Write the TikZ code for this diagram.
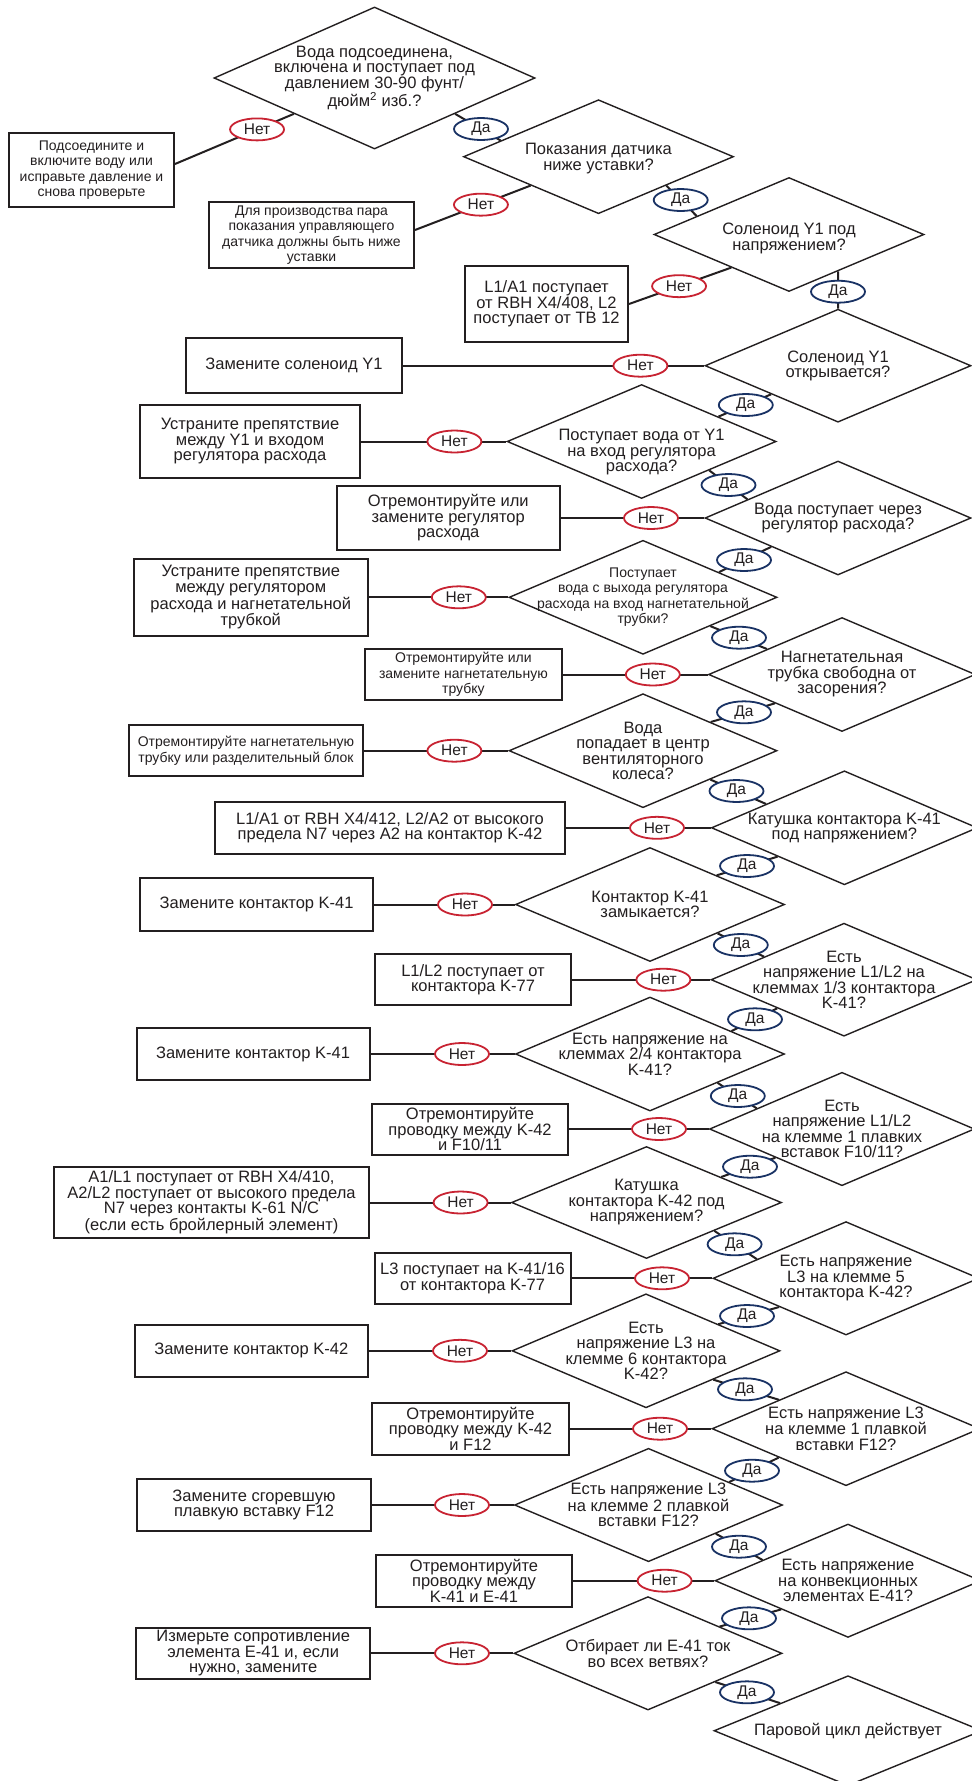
\documentclass[tikz,border=0pt]{standalone}
\usepackage{fontspec}
\setmainfont{Liberation Sans}
\usetikzlibrary{shapes.geometric,backgrounds,calc}
\definecolor{nored}{RGB}{200,35,50}
\definecolor{yesblue}{RGB}{25,50,100}
\definecolor{ink}{RGB}{35,31,32}
\newcommand\fbig{\fontsize{16.5}{15.5}\selectfont}
\newcommand\fsmall{\fontsize{14}{15.5}\selectfont}
\newcommand\flab{\fontsize{15.5}{16}\selectfont}
\newcommand\linkR[3]{\draw[link] (#1.south east) -- (intersection of #1.south east--#2.center and #3.west--#3.north);}
\newcommand\linkL[3]{\draw[link] (#1.south west) -- (intersection of #1.south west--#2.center and #3.east--#3.north);}
\begin{document}
\begin{tikzpicture}[x=1pt,y=-1pt,
 dia/.style={shape=diamond, draw=ink, line width=1.4pt, fill=white, inner sep=0pt},
 dtext/.style={align=center, font=\fbig, text=ink, inner sep=0pt},
 box/.style={draw=ink, line width=2pt, fill=white, inner sep=0pt, align=center, font=\fbig, text=ink},
 lab/.style={ellipse, fill=white, line width=1.8pt, minimum width=54pt, minimum height=22pt, inner sep=0pt, font=\flab, text=ink},
 no/.style={lab, draw=nored},
 yes/.style={lab, draw=yesblue},
 link/.style={line width=2pt, draw=ink},
]
\useasboundingbox (0,0) rectangle (972,1781);

% diamonds
\node[dia, minimum width=321pt, minimum height=142pt] (D1) at (374.5,78) {};
\node[dtext] (D1t) at (D1.center) {Вода подсоединена,\\включена и поступает под\\давлением 30-90 фунт/\\дюйм\textsuperscript{2} изб.?};
\node[dia, minimum width=270pt, minimum height=114pt] (D2) at (598.5,156.7) {};
\node[dtext, yshift=-2pt] (D2t) at (D2.center) {Показания датчика\\ниже уставки?};
\node[dia, minimum width=270pt, minimum height=114pt] (D3) at (789,234.5) {};
\node[dtext, yshift=-4pt] (D3t) at (D3.center) {Соленоид Y1 под\\напряжением?};
\node[dia, minimum width=266pt, minimum height=113pt] (D4) at (838,365.7) {};
\node[dtext] (D4t) at (D4.center) {Соленоид Y1\\открывается?};
\node[dia, minimum width=269pt, minimum height=114pt] (D5) at (641.6,441.5) {};
\node[dtext, yshift=-11pt] (D5t) at (D5.center) {Поступает вода от Y1\\на вход регулятора\\расхода?};
\node[dia, minimum width=266pt, minimum height=114pt] (D6) at (838,518) {};
\node[dtext] (D6t) at (D6.center) {Вода поступает через\\регулятор расхода?};
\node[dia, minimum width=268pt, minimum height=114pt] (D7) at (643,597.3) {};
\node[dtext, font=\fsmall] (D7t) at (D7.center) {Поступает\\вода с выхода регулятора\\расхода на вход нагнетательной\\трубки?};
\node[dia, minimum width=267pt, minimum height=114pt] (D8) at (842,674.5) {};
\node[dtext] (D8t) at (D8.center) {Нагнетательная\\трубка свободна от\\засорения?};
\node[dia, minimum width=268pt, minimum height=114pt] (D9) at (643,750.7) {};
\node[dtext] (D9t) at (D9.center) {Вода\\попадает в центр\\вентиляторного\\колеса?};
\node[dia, minimum width=266pt, minimum height=114pt] (D10) at (844.4,827.8) {};
\node[dtext] (D10t) at (D10.center) {Катушка контактора K-41\\под напряжением?};
\node[dia, minimum width=269pt, minimum height=114pt] (D11) at (650,904.5) {};
\node[dtext] (D11t) at (D11.center) {Контактор K-41\\замыкается?};
\node[dia, minimum width=266pt, minimum height=113pt] (D12) at (844,979.7) {};
\node[dtext] (D12t) at (D12.center) {Есть\\напряжение L1/L2 на\\клеммах 1/3 контактора\\K-41?};
\node[dia, minimum width=269pt, minimum height=114pt] (D13) at (650,1054) {};
\node[dtext] (D13t) at (D13.center) {Есть напряжение на\\клеммах 2/4 контактора\\K-41?};
\node[dia, minimum width=265pt, minimum height=113.4pt] (D14) at (842,1129) {};
\node[dtext] (D14t) at (D14.center) {Есть\\напряжение L1/L2\\на клемме 1 плавких\\вставок F10/11?};
\node[dia, minimum width=270pt, minimum height=112pt] (D15) at (646.5,1202.5) {};
\node[dtext] (D15t) at (D15.center) {Катушка\\контактора K-42 под\\напряжением?};
\node[dia, minimum width=266pt, minimum height=113.4pt] (D16) at (846,1278.3) {};
\node[dtext] (D16t) at (D16.center) {Есть напряжение\\L3 на клемме 5\\контактора K-42?};
\node[dia, minimum width=268pt, minimum height=114pt] (D17) at (646,1350.8) {};
\node[dtext] (D17t) at (D17.center) {Есть\\напряжение L3 на\\клемме 6 контактора\\K-42?};
\node[dia, minimum width=268pt, minimum height=114pt] (D18) at (846,1428.7) {};
\node[dtext] (D18t) at (D18.center) {Есть напряжение L3\\на клемме 1 плавкой\\вставки F12?};
\node[dia, minimum width=268pt, minimum height=113.4pt] (D19) at (648.5,1505) {};
\node[dtext] (D19t) at (D19.center) {Есть напряжение L3\\на клемме 2 плавкой\\вставки F12?};
\node[dia, minimum width=266pt, minimum height=113.4pt] (D20) at (848,1580.7) {};
\node[dtext] (D20t) at (D20.center) {Есть напряжение\\на конвекционных\\элементах E-41?};
\node[dia, minimum width=268pt, minimum height=113.4pt] (D21) at (648,1653.3) {};
\node[dtext] (D21t) at (D21.center) {Отбирает ли E-41 ток\\во всех ветвях?};
\node[dia, minimum width=268pt, minimum height=110pt] (D22) at (848,1730.7) {};
\node[dtext] (D22t) at (D22.center) {Паровой цикл действует};

% boxes
\node[box, font=\fsmall, minimum width=165pt, minimum height=73.4pt] (B1) at (91.5,170) {Подсоедините и\\включите воду или\\исправьте давление и\\снова проверьте};
\node[box, font=\fsmall, minimum width=205pt, minimum height=66pt] (B2) at (311.5,235) {Для производства пара\\показания управляющего\\датчика должны быть ниже\\уставки};
\node[box, minimum width=163pt, minimum height=75.7pt] (B3) at (546.5,304) {L1/A1 поступает\\от RBH X4/408, L2\\поступает от TB 12};
\node[box, minimum width=215.7pt, minimum height=55.4pt] (B4) at (294,365.7) {Замените соленоид Y1};
\node[box, minimum width=220pt, minimum height=73.3pt] (B5) at (250,441.5) {Устраните препятствие\\между Y1 и входом\\регулятора расхода};
\node[box, minimum width=223.2pt, minimum height=63.3pt] (B6) at (448.2,518) {Отремонтируйте или\\замените регулятор\\расхода};
\node[box, minimum width=233.6pt, minimum height=77.3pt] (B7) at (250.8,597.3) {Устраните препятствие\\между регулятором\\расхода и нагнетательной\\трубкой};
\node[box, font=\fsmall, minimum width=196.7pt, minimum height=51pt] (B8) at (463.4,674.5) {Отремонтируйте или\\замените нагнетательную\\трубку};
\node[box, font=\fsmall, minimum width=233.7pt, minimum height=51pt] (B9) at (246,750.7) {Отремонтируйте нагнетательную\\трубку или разделительный блок};
\node[box, minimum width=349.8pt, minimum height=51.7pt] (B10) at (390,827.8) {L1/A1 от RBH X4/412, L2/A2 от высокого\\предела N7 через A2 на контактор K-42};
\node[box, minimum width=233.2pt, minimum height=52.3pt] (B11) at (256.6,904.5) {Замените контактор K-41};
\node[box, minimum width=196pt, minimum height=51pt] (B12) at (473,979.7) {L1/L2 поступает от\\контактора K-77};
\node[box, minimum width=233pt, minimum height=51.7pt] (B13) at (253,1054) {Замените контактор K-41};
\node[box, minimum width=196pt, minimum height=51pt] (B14) at (470,1129) {Отремонтируйте\\проводку между K-42\\и F10/11};
\node[box, minimum width=315pt, minimum height=71.7pt] (B15) at (211.5,1202.5) {A1/L1 поступает от RBH X4/410,\\A2/L2 поступает от высокого предела\\N7 через контакты K-61 N/C\\(если есть бройлерный элемент)};
\node[box, minimum width=196pt, minimum height=51.3pt] (B16) at (472.5,1278.3) {L3 поступает на K-41/16\\от контактора K-77};
\node[box, minimum width=232.6pt, minimum height=51.7pt] (B17) at (251.3,1350.8) {Замените контактор K-42};
\node[box, minimum width=197pt, minimum height=51.7pt] (B18) at (470.5,1428.7) {Отремонтируйте\\проводку между K-42\\и F12};
\node[box, minimum width=233.7pt, minimum height=51.7pt] (B19) at (254,1505) {Замените сгоревшую\\плавкую вставку F12};
\node[box, minimum width=196.5pt, minimum height=51.7pt] (B20) at (474,1580.7) {Отремонтируйте\\проводку между\\K-41 и E-41};
\node[box, minimum width=233.6pt, minimum height=51.6pt] (B21) at (253.2,1653.3) {Измерьте сопротивление\\элемента E-41 и, если\\нужно, замените};

% connector end points on the upper boxes / diamonds
\coordinate (B1e) at ([yshift=6pt]B1.east);
\coordinate (B2e) at ([yshift=5pt]B2.east);
\coordinate (D3e) at ($(D3.west)!0.574!(D3.south)$);

% "Нет" labels
\node[no] (N1) at ($(B1e)!0.69!(D1.south west)$) {Нет};
\node[no] (N2) at ($(B2e)!0.57!(D2.south west)$) {Нет};
\node[no] (N3) at ($(B3.east)!0.49!(D3e)$) {Нет};
\node[no] (N4) at (640.4,365.7) {Нет};
\node[no] (N5) at (454.4,441.5) {Нет};
\node[no] (N6) at (651,518) {Нет};
\node[no] (N7) at (458.8,597.3) {Нет};
\node[no] (N8) at (652.8,674.5) {Нет};
\node[no] (N9) at (454.4,750.7) {Нет};
\node[no] (N10) at (657,827.8) {Нет};
\node[no] (N11) at (465,904.5) {Нет};
\node[no] (N12) at (663.4,979.7) {Нет};
\node[no] (N13) at (462,1054) {Нет};
\node[no] (N14) at (659,1129) {Нет};
\node[no] (N15) at (460.6,1202.5) {Нет};
\node[no] (N16) at (662,1278.3) {Нет};
\node[no] (N17) at (460,1350.8) {Нет};
\node[no] (N18) at (660,1428.7) {Нет};
\node[no] (N19) at (462,1505) {Нет};
\node[no] (N20) at (664.6,1580.7) {Нет};
\node[no] (N21) at (462,1653.3) {Нет};

% "Да" labels
\node[yes] (Y1) at (481,129) {Да};
\node[yes] (Y2) at (680.7,200) {Да};
\node[yes] (Y3) at (838,291.7) {Да};
\node[yes] (Y4) at (745.8,405) {Да};
\node[yes] (Y5) at (728.5,485) {Да};
\node[yes] (Y6) at (744,560) {Да};
\node[yes] (Y7) at (739,637.7) {Да};
\node[yes] (Y8) at (744,712.3) {Да};
\node[yes] (Y9) at (736.5,791) {Да};
\node[yes] (Y10) at (747,866) {Да};
\node[yes] (Y11) at (740.8,945) {Да};
\node[yes] (Y12) at (755,1019.3) {Да};
\node[yes] (Y13) at (737.8,1096) {Да};
\node[yes] (Y14) at (750,1166.7) {Да};
\node[yes] (Y15) at (734.6,1244.3) {Да};
\node[yes] (Y16) at (747,1316) {Да};
\node[yes] (Y17) at (745,1389.3) {Да};
\node[yes] (Y18) at (752,1470.7) {Да};
\node[yes] (Y19) at (739,1546.7) {Да};
\node[yes] (Y20) at (749,1618.3) {Да};
\node[yes] (Y21) at (747,1692.3) {Да};

\begin{scope}[on background layer]
\fill[white] (0,0) rectangle (972,1781);
% Нет connectors
\draw[link] (B1e) -- (D1.south west);
\draw[link] (B2e) -- (D2.south west);
\draw[link] (B3.east) -- (D3e);
\draw[link] (B4.east) -- (D4.west);
\draw[link] (B5.east) -- (D5.west);
\draw[link] (B6.east) -- (D6.west);
\draw[link] (B7.east) -- (D7.west);
\draw[link] (B8.east) -- (D8.west);
\draw[link] (B9.east) -- (D9.west);
\draw[link] (B10.east) -- (D10.west);
\draw[link] (B11.east) -- (D11.west);
\draw[link] (B12.east) -- (D12.west);
\draw[link] (B13.east) -- (D13.west);
\draw[link] (B14.east) -- (D14.west);
\draw[link] (B15.east) -- (D15.west);
\draw[link] (B16.east) -- (D16.west);
\draw[link] (B17.east) -- (D17.west);
\draw[link] (B18.east) -- (D18.west);
\draw[link] (B19.east) -- (D19.west);
\draw[link] (B20.east) -- (D20.west);
\draw[link] (B21.east) -- (D21.west);
% Да connectors
\linkR{D1}{Y1}{D2}
\linkR{D2}{Y2}{D3}
\draw[link] (intersection of D4.north--D4.south and D3.south--D3.east) -- (D4.north);
\linkL{D4}{Y4}{D5}
\linkR{D5}{Y5}{D6}
\linkL{D6}{Y6}{D7}
\linkR{D7}{Y7}{D8}
\linkL{D8}{Y8}{D9}
\linkR{D9}{Y9}{D10}
\linkL{D10}{Y10}{D11}
\linkR{D11}{Y11}{D12}
\linkL{D12}{Y12}{D13}
\linkR{D13}{Y13}{D14}
\linkL{D14}{Y14}{D15}
\linkR{D15}{Y15}{D16}
\linkL{D16}{Y16}{D17}
\linkR{D17}{Y17}{D18}
\linkL{D18}{Y18}{D19}
\linkR{D19}{Y19}{D20}
\linkL{D20}{Y20}{D21}
\linkR{D21}{Y21}{D22}
\end{scope}
\end{tikzpicture}
\end{document}
